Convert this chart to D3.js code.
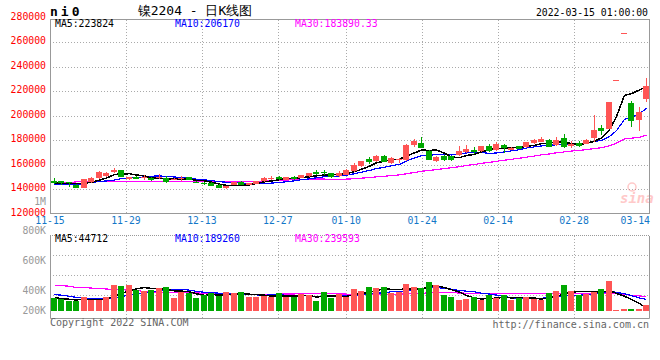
<!DOCTYPE html>
<html><head><meta charset="utf-8">
<script src="https://cdn.jsdelivr.net/npm/d3@7"></script>
<style>
body{margin:0;background:#fff}
svg{display:block}
text{font-family:"DejaVu Sans Mono",monospace}
</style>
</head><body>
<svg id="c" width="660" height="360"></svg>
<script>
// ---------- data ----------
const opens  = [146500,146300,145400,143600,140900,145700,148700,150600,154200,155200,
                147900,150100,149000,149000,149000,149300,147700,147900,149500,146000,
                145200,145200,143600,140600,143300,146000,143300,144400,146300,147900,
                149800,147700,150200,149400,150500,153900,154100,153000,150500,151500,
                154600,158800,164600,162600,167400,161200,163600,163600,175900,177500,
                171500,163100,167400,166900,167900,170500,172300,171000,175600,172300,
                176100,172000,175000,174300,177800,178800,180300,176200,182000,174800,
                177700,177000,181700,190300,189200,229000,267300,210600,196800,214000];
const highs  = [148700,146800,145600,144000,148300,149500,154700,154200,156900,155600,
                150200,150600,151200,149500,152000,150600,148700,150400,149800,146300,
                145700,145600,144000,142800,146100,146600,145300,146700,149800,150400,
                150600,149900,150600,151800,153200,155200,155500,153300,154400,156000,
                160900,163300,166100,167900,167800,166100,165600,176800,180600,182900,
                172200,166900,167800,167300,175000,176400,174200,175500,177200,178300,
                177000,174500,175600,178800,181300,182200,180800,182700,185400,178900,
                179000,181000,200300,192700,211300,229000,267300,211700,207200,231200];
const lows   = [144500,143300,141700,140500,140500,145300,147900,149800,153100,149800,
                147500,148000,147600,146800,147900,145200,147400,146800,147100,144600,
                143000,142200,140500,140200,142900,143000,143000,144100,146000,147500,
                147100,147300,147800,149000,150200,151400,151200,149400,149600,151200,
                153600,158400,160800,162200,162000,160700,161200,163200,174400,173300,
                163400,161800,163300,163300,166900,169600,168800,170600,170400,171500,
                169400,171600,172500,173900,177200,178300,174200,175000,173200,173700,
                174300,176500,178500,184600,188800,229000,267300,190500,187300,210800];
const closes = [145200,144900,144800,140900,147900,149000,153900,153300,155500,150100,
                149800,148500,150000,147100,149800,146000,148400,149000,147400,144900,
                144100,142500,140900,142500,145700,143300,144900,146300,149400,149400,
                148200,149500,148200,151400,152800,152200,152900,149800,153100,155600,
                159400,162800,162000,167400,162400,165000,164700,176400,179200,173900,
                163800,166100,163700,163700,170900,173100,169900,175000,171500,177200,
                173200,173900,172800,178300,180200,180600,174600,179900,174100,177200,
                175300,180400,188600,187500,210800,229000,267300,195400,203000,224400];
const volumes = [214500,198400,156500,166100,221000,182300,182300,221000,414500,398400,
                 414500,343500,322600,343500,366100,382300,204800,306500,285500,204800,
                 253200,285500,241900,301600,285500,301600,221000,221000,241900,221000,
                 285500,221000,221000,269400,253200,156500,301600,214500,269400,225800,
                 350000,317700,382300,366100,382300,295200,306500,430600,382300,366100,
                 462900,414500,253200,221000,172600,188700,221000,172600,253200,204800,
                 253200,172600,204800,221000,188700,172600,285500,317700,414500,317700,
                 253200,269400,301600,350000,483900,18000,40000,32000,34000,100000];
// moving-average values before a full window exists
const priceMa5Lead  = [144800,144700,144700,144500];
const priceMa10Lead = [144200,144100,143900,143300,145000,145200,146300,146600,147400];
const priceMa30Lead = [145200,145200,145200,145900,145900,145900,145900,145900,
                       146400,146400,146400,146400,146400,146300,146300,146300,146300,
                       146300,146300,146300,146300,146300,146300,146300,146300,146300,
                       146300,146300,146300];
const volMa5Lead  = [214000,200000,188000,178000];
const volMa10Lead = [265000,255000,237000,220000,210000,200000,195000,195000,210000];
const volMa30Lead = [409000,409000,400000,377000,377000,370000,361000,355000,345000,345000,
                     334000,330000,315000,307000,307000,300000,300000,295000,291000,291000,
                     285000,280000,275000,272000,270000,270000,270000,270000,270000];
const xTickIndex  = [0,10,20,30,39,49,59,69,79];
const xTickLabels = ["11-15","11-29","12-13","12-27","01-10","01-24","02-14","02-28","03-14"];
const priceTicks  = [280000,260000,240000,220000,200000,180000,160000,140000,120000];
const volTickValues = [1000000,800000,600000,400000,200000];
const volTickLabels = ["1M","800K","600K","400K","200K"];
const priceHeader = ["MA5:223824","MA10:206170","MA30:183890.33"];
const volHeader   = ["MA5:44712","MA10:189260","MA30:239593"];
const titleText = "镍2204 - 日K线图";
const symbolText = "ni0";
const timeText = "2022-03-15 01:00:00";

// ---------- setup ----------
const svg = d3.select("#c");
const UP = "#ff5555", DOWN = "#00a800", GRID = "#aaaaaa", BORDER = "#999999";
const maColors = ["#000000","#0000ff","#ff00ff"];
const FS = 9.8;
const N = closes.length;
const idx = d3.range(N);

const xBand = d3.scaleBand().domain(idx).range([50, 650]);
const xGrid = d3.scalePoint().domain(d3.range(80)).range([50, 650]);
const y = d3.scaleLinear().domain([120000, 280000]).range([213.5, 17.85]);
const vy = d3.scaleLinear().domain([0, 1000000]).range([311, 249]);
const volLabelY = d3.scaleLinear().domain([400000, 1000000]).range([290.5, 201]);

function ma(arr, n, lead) {
  return arr.map((_, i) => i < n - 1 ? lead[i] : d3.mean(arr.slice(i - n + 1, i + 1)));
}
const pMA = [ma(closes,5,priceMa5Lead), ma(closes,10,priceMa10Lead), ma(closes,30,priceMa30Lead)];
const vMA = [ma(volumes,5,volMa5Lead), ma(volumes,10,volMa10Lead), ma(volumes,30,volMa30Lead)];
const bodyX = k => Math.round(xBand(k) + 0.75);
const cx = k => bodyX(k) + 3;
const isUp = k => closes[k] >= opens[k];

// ---------- price panel ----------
const gp = svg.append("g");
gp.selectAll("line.hg").data(priceTicks.filter(v => v > 120000 && v < 280000)).join("line")
  .attr("x1", 50).attr("x2", 650)
  .attr("y1", d => Math.round(y(d)) + 0.5).attr("y2", d => Math.round(y(d)) + 0.5)
  .attr("stroke", GRID).attr("stroke-dasharray", "1,2");
const innerTicks = xTickIndex.filter(k => k > 0 && k < 79);
gp.selectAll("line.vg").data(innerTicks).join("line")
  .attr("x1", d => Math.round(xGrid(d)) + 0.5).attr("x2", d => Math.round(xGrid(d)) + 0.5)
  .attr("y1", 20).attr("y2", 213)
  .attr("stroke", GRID).attr("stroke-dasharray", "1,2");

// watermark
const wm = svg.append("g").attr("opacity", 0.35);
wm.append("circle").attr("cx", 632).attr("cy", 187).attr("r", 4).attr("fill", "none").attr("stroke", "#ff6666").attr("stroke-width", 1.5);
wm.append("text").attr("x", 620).attr("y", 203).attr("font-family", "DejaVu Sans").attr("font-size", 14)
  .attr("font-weight", "bold").attr("font-style", "italic").attr("fill", "#ff6666").text("sina");

// candles
const cg = svg.append("g").attr("shape-rendering", "crispEdges");
cg.selectAll("rect.w").data(idx).join("rect")
  .attr("x", k => cx(k)).attr("width", 1)
  .attr("y", k => y(highs[k])).attr("height", k => Math.max(1, y(lows[k]) - y(highs[k])))
  .attr("fill", k => isUp(k) ? UP : DOWN);
cg.selectAll("rect.b").data(idx).join("rect")
  .attr("x", k => bodyX(k)).attr("width", 6)
  .attr("y", k => y(Math.max(opens[k], closes[k])))
  .attr("height", k => Math.max(1, Math.abs(y(opens[k]) - y(closes[k]))))
  .attr("fill", k => isUp(k) ? UP : DOWN);

// price MAs
[2,1,0].forEach(m => {
  gp.append("path").datum(idx)
    .attr("d", d3.line().x(k => cx(k) + 0.5).y(k => y(pMA[m][k])))
    .attr("fill", "none").attr("stroke", maColors[m])
    .attr("stroke-width", m === 0 ? 1.5 : 1.2).attr("shape-rendering", "crispEdges");
});

svg.append("rect").attr("x", 50.5).attr("y", 19.5).attr("width", 599).attr("height", 194)
  .attr("fill", "none").attr("stroke", BORDER);

svg.selectAll("text.py").data(priceTicks).join("text")
  .attr("x", 46).attr("y", d => y(d) - 1.5 + FS * 0.36)
  .attr("text-anchor", "end").attr("font-size", FS).attr("fill", "#ff0000").text(d => d);

const hx = [55, 175, 295];
svg.selectAll("text.ph").data(priceHeader).join("text")
  .attr("x", (d, i) => hx[i]).attr("y", 23.4 + FS * 0.36)
  .attr("font-size", FS).attr("fill", (d, i) => maColors[i]).text(d => d);

svg.selectAll("text.xl").data(xTickIndex).join("text")
  .attr("x", (d, i) => d === 79 ? 650 : xGrid(d))
  .attr("y", 220 + FS * 0.36)
  .attr("text-anchor", d => d === 79 ? "end" : "middle")
  .attr("font-size", FS).attr("fill", "#1478c8")
  .text((d, i) => xTickLabels[i]);

// ---------- volume panel ----------
const gv = svg.append("g");
gv.selectAll("line.vh").data([255, 275, 295]).join("line")
  .attr("x1", 50).attr("x2", 650).attr("y1", d => d + 0.5).attr("y2", d => d + 0.5)
  .attr("stroke", GRID).attr("stroke-dasharray", "1,2");
gv.selectAll("line.vv").data(innerTicks).join("line")
  .attr("x1", d => Math.round(xGrid(d)) + 0.5).attr("x2", d => Math.round(xGrid(d)) + 0.5)
  .attr("y1", 236).attr("y2", 318)
  .attr("stroke", GRID).attr("stroke-dasharray", "1,2");
gv.append("line").attr("x1", 50).attr("x2", 650).attr("y1", 235.5).attr("y2", 235.5)
  .attr("stroke", BORDER).attr("stroke-dasharray", "1,1");

const vg = svg.append("g").attr("shape-rendering", "crispEdges");
vg.selectAll("rect").data(idx).join("rect")
  .attr("x", k => bodyX(k)).attr("width", 6)
  .attr("y", k => vy(volumes[k])).attr("height", k => Math.max(1, vy(0) - vy(volumes[k])))
  .attr("fill", k => isUp(k) ? UP : DOWN);

[2,1,0].forEach(m => {
  gv.append("path").datum(idx)
    .attr("d", d3.line().x(k => cx(k) + 0.5).y(k => vy(vMA[m][k])))
    .attr("fill", "none").attr("stroke", maColors[m])
    .attr("stroke-width", m === 0 ? 1.5 : 1.2).attr("shape-rendering", "crispEdges");
});

svg.append("path").attr("d", "M50.5,236V318.5H649.5V236").attr("fill", "none").attr("stroke", BORDER);

svg.selectAll("text.vl").data(volTickValues).join("text")
  .attr("x", 46).attr("y", d => Math.min(volLabelY(d), 310.7) + FS * 0.36)
  .attr("text-anchor", "end").attr("font-size", FS).attr("fill", "#999999")
  .text((d, i) => volTickLabels[i]);

svg.selectAll("text.vh").data(volHeader).join("text")
  .attr("x", (d, i) => hx[i]).attr("y", 238.5 + FS * 0.36)
  .attr("font-size", FS).attr("fill", (d, i) => maColors[i]).text(d => d);

// ---------- header / footer text ----------
svg.append("text").attr("x", 50).attr("y", 16).attr("font-size", 13).attr("font-weight", "bold")
  .attr("letter-spacing", 3).attr("fill", "#000").text(symbolText);
svg.append("text").attr("x", 195).attr("y", 15).attr("text-anchor", "middle")
  .attr("font-family", "Noto Sans CJK SC").attr("font-size", 13).attr("fill", "#000").text(titleText);
svg.append("text").attr("x", 648).attr("y", 12 + FS * 0.36).attr("text-anchor", "end")
  .attr("font-size", FS).attr("fill", "#000").text(timeText);
svg.append("text").attr("x", 50).attr("y", 322.7 + 3.6).attr("font-size", 10).attr("fill", "#666").text("Copyright 2022 SINA.COM");
svg.append("text").attr("x", 649).attr("y", 324 + 3.6).attr("text-anchor", "end").attr("font-size", 10).attr("fill", "#666").text("http://finance.sina.com.cn");
</script>
</body></html>
